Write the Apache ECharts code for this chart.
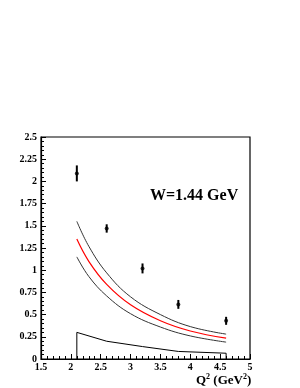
<!DOCTYPE html>
<html><head><meta charset="utf-8">
<script src="https://cdn.jsdelivr.net/npm/echarts@6/dist/echarts.min.js"></script>
<style>html,body{margin:0;padding:0;background:#fff}#c{width:300px;height:388px}</style>
</head><body><div id="c"></div>
<script>
// Data points with errors
var ptQ2 = [2.1, 2.6, 3.2, 3.8, 4.6];
var ptVal = [2.09, 1.47, 1.02, 0.615, 0.43];
var ptErr = [0.09, 0.047, 0.056, 0.05, 0.045];
// Model curves
var curveQ2 = [2.1, 2.3, 2.6, 3.0, 3.5, 4.0, 4.6];
var curveTop = [1.55, 1.27, 0.97, 0.70, 0.50, 0.365, 0.28];
var curveMid = [1.35, 1.10, 0.84, 0.61, 0.43, 0.315, 0.235];
var curveBot = [1.15, 0.93, 0.71, 0.51, 0.36, 0.26, 0.19];
// Systematic band (lower line)
var sysQ2 = [2.1, 2.1, 2.6, 3.2, 3.8, 4.6, 4.6];
var sysVal = [0, 0.30, 0.20, 0.14, 0.085, 0.065, 0];

function pairs(xs, ys){ return xs.map(function(x,i){ return [x, ys[i]]; }); }

var font = 'Liberation Serif';
var chart = echarts.init(document.getElementById('c'));
chart.setOption({
  animation: false,
  grid: {left: 41, top: 137, width: 209, height: 222, show: true, borderColor: '#000', borderWidth: 1.2, backgroundColor: 'transparent'},
  xAxis: {
    type: 'value', min: 1.5, max: 5, interval: 0.5,
    axisLine: {lineStyle: {color: '#000', width: 1.2}},
    axisTick: {inside: true, length: 5, lineStyle: {color: '#000'}},
    minorTick: {show: true, splitNumber: 5, length: 3, lineStyle: {color: '#000'}},
    splitLine: {show: false},
    axisLabel: {color: '#000', fontFamily: font, fontWeight: 'bold', fontSize: 10, margin: 3,
      formatter: function(v){ return String(v); }}
  },
  yAxis: {
    type: 'value', min: 0, max: 2.5, interval: 0.25,
    axisLine: {lineStyle: {color: '#000', width: 1.2}},
    axisTick: {inside: true, length: 5, lineStyle: {color: '#000'}},
    minorTick: {show: true, splitNumber: 5, length: 3, lineStyle: {color: '#000'}},
    splitLine: {show: false},
    axisLabel: {color: '#000', fontFamily: font, fontWeight: 'bold', fontSize: 10, margin: 4,
      formatter: function(v){ return String(v); }}
  },
  graphic: [
    {type: 'text', left: 150, top: 188, style: {text: 'W=1.44 GeV', font: 'bold 16px "Liberation Serif"', fill: '#000'}},
    {type: 'text', left: 196, top: 373, style: {
      text: '{b|Q}{s|2}{b| (GeV}{s|2}{b|)}',
      rich: {
        b: {fontFamily: font, fontWeight: 'bold', fontSize: 13, fill: '#000', verticalAlign: 'bottom', lineHeight: 14},
        s: {fontFamily: font, fontWeight: 'bold', fontSize: 8, fill: '#000', verticalAlign: 'top', lineHeight: 9}
      }
    }}
  ],
  series: [
    {type: 'line', data: pairs(curveQ2, curveTop), smooth: 0.4, showSymbol: false, lineStyle: {color: '#333', width: 1}},
    {type: 'line', data: pairs(curveQ2, curveMid), smooth: 0.4, showSymbol: false, lineStyle: {color: '#ff0000', width: 1.2}},
    {type: 'line', data: pairs(curveQ2, curveBot), smooth: 0.4, showSymbol: false, lineStyle: {color: '#333', width: 1}},
    {type: 'line', data: pairs(sysQ2, sysVal), showSymbol: false, lineStyle: {color: '#000', width: 1}},
    {type: 'custom', data: ptQ2.map(function(x,i){ return [x, ptVal[i]-ptErr[i], ptVal[i]+ptErr[i]]; }),
      renderItem: function(params, api){
        var lo = api.coord([api.value(0), api.value(1)]);
        var hi = api.coord([api.value(0), api.value(2)]);
        return {type: 'line', shape: {x1: lo[0], y1: lo[1], x2: hi[0], y2: hi[1]}, style: {stroke: '#000', lineWidth: 2}};
      }, z: 5},
    {type: 'scatter', data: pairs(ptQ2, ptVal), symbol: 'circle', symbolSize: 4, itemStyle: {color: '#000'}, z: 6}
  ]
});
</script></body></html>
